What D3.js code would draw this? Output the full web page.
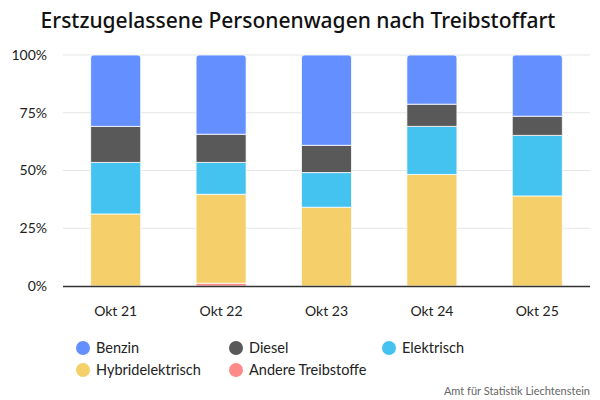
<!DOCTYPE html>
<html>
<head>
<meta charset="utf-8">
<script src="https://cdn.jsdelivr.net/npm/d3@7"></script>
<style>
  body { margin: 0; background: #fff; }
  svg { font-family: "Lato", "Noto Sans", sans-serif; }
</style>
</head>
<body>
<svg id="chart"></svg>
<script>
// Anteile in Prozent, von unten nach oben gestapelt
const months = ["Okt 21", "Okt 22", "Okt 23", "Okt 24", "Okt 25"];
const andere = [0, 1.2, 0, 0, 0];
const hybrid = [31.2, 38.5, 34.1, 48.3, 39.0];
const elektrisch = [22.3, 13.8, 15.0, 20.8, 26.2];
const diesel = [15.6, 12.2, 11.8, 9.6, 8.3];
const benzin = [30.9, 34.3, 39.1, 21.3, 26.5];
const yTicks = [0, 25, 50, 75, 100];

const seriesNames = ["Andere Treibstoffe", "Hybridelektrisch", "Elektrisch", "Diesel", "Benzin"];
const seriesValues = [andere, hybrid, elektrisch, diesel, benzin];
const colors = {
  "Benzin": "#648fff",
  "Diesel": "#595959",
  "Elektrisch": "#44c2f0",
  "Hybridelektrisch": "#f4cf6a",
  "Andere Treibstoffe": "#ff8a8a"
};
const legendOrder = ["Benzin", "Diesel", "Elektrisch", "Hybridelektrisch", "Andere Treibstoffe"];

const width = 600, height = 400;
const svg = d3.select("#chart").attr("width", width).attr("height", height);

const rows = months.map((m, i) => {
  const r = { month: m };
  seriesNames.forEach((s, j) => r[s] = seriesValues[j][i]);
  return r;
});
const stacked = d3.stack().keys(seriesNames)(rows);

const x = d3.scaleBand().domain(months).range([63, 590]).paddingInner(0.525).paddingOuter(0.2625);
const y = d3.scaleLinear().domain([0, 100]).range([286, 55]);

// Gitterlinien
svg.append("g").selectAll("line").data(yTicks.filter(d => d > 0)).join("line")
  .attr("x1", 63).attr("x2", 590)
  .attr("y1", d => y(d)).attr("y2", d => y(d))
  .attr("stroke", "#e6e6e6").attr("stroke-width", 1);

// y-Achse Beschriftung
svg.append("g").selectAll("text").data(yTicks).join("text")
  .attr("x", 47).attr("y", d => y(d)).attr("dy", "0.35em")
  .attr("text-anchor", "end").style("font-size", "14px").attr("fill", "#222")
  .text(d => d + "%");

// Balken
stacked.forEach(layer => {
  const isTop = layer.key === "Benzin";
  svg.append("g").selectAll("path").data(layer).join("path")
    .attr("d", d => {
      const x0 = x(d.data.month), w = x.bandwidth();
      const yt = y(d[1]), yb = y(d[0]);
      if (yb - yt <= 0) return "";
      const r = isTop ? 3 : 0;
      return `M${x0},${yb}V${yt + r}Q${x0},${yt} ${x0 + r},${yt}H${x0 + w - r}Q${x0 + w},${yt} ${x0 + w},${yt + r}V${yb}Z`;
    })
    .attr("fill", colors[layer.key])
    .attr("stroke", "#fff").attr("stroke-width", 0.8);
});

// x-Achse
svg.append("line").attr("x1", 63).attr("x2", 590).attr("y1", 286.5).attr("y2", 286.5)
  .attr("stroke", "#333").attr("stroke-width", 1.5);
svg.append("g").selectAll("text").data(months).join("text")
  .attr("x", d => x(d) + x.bandwidth() / 2).attr("y", 316)
  .attr("text-anchor", "middle").style("font-size", "14px").attr("fill", "#222")
  .text(d => d);

// Titel
svg.append("text").attr("x", 298).attr("y", 28).attr("text-anchor", "middle")
  .style("font-family", "'Noto Sans', sans-serif")
  .style("font-size", "21px").style("font-weight", "500").attr("fill", "#111")
  .text("Erstzugelassene Personenwagen nach Treibstoffart");

// Legende
const legend = svg.append("g").selectAll("g").data(legendOrder).join("g")
  .attr("transform", (d, i) => `translate(${83 + (i % 3) * 153},${348 + Math.floor(i / 3) * 22})`);
legend.append("circle").attr("r", 7).attr("fill", d => colors[d]);
legend.append("text").attr("x", 13).attr("dy", "0.35em")
  .style("font-size", "14.5px").attr("fill", "#222").text(d => d);

// Quelle
svg.append("text").attr("x", 590).attr("y", 395).attr("text-anchor", "end")
  .style("font-size", "11px").attr("fill", "#666")
  .text("Amt für Statistik Liechtenstein");
</script>
</body>
</html>
